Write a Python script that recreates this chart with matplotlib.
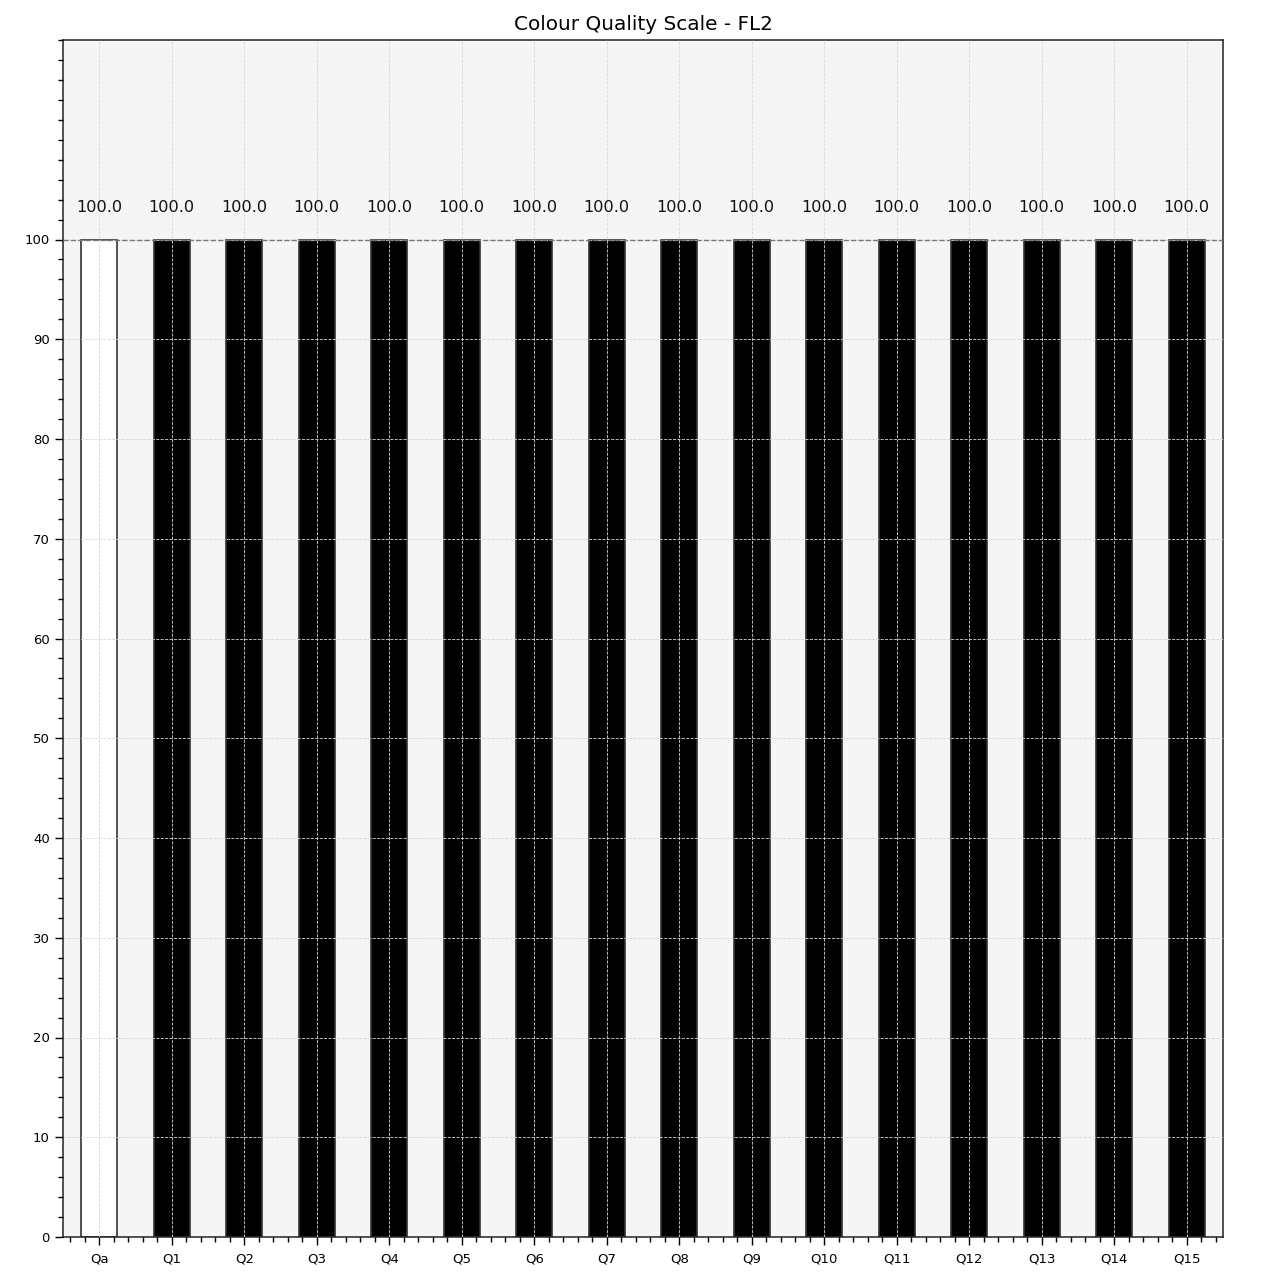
import matplotlib
matplotlib.use("Agg")
import matplotlib.pyplot as plt
from matplotlib.ticker import AutoMinorLocator

title = "Colour Quality Scale - FL2"
labels = ["Qa", "Q1", "Q2", "Q3", "Q4", "Q5", "Q6", "Q7", "Q8",
          "Q9", "Q10", "Q11", "Q12", "Q13", "Q14", "Q15"]
scores = [100.0, 100.0, 100.0, 100.0, 100.0, 100.0, 100.0, 100.0, 100.0,
          100.0, 100.0, 100.0, 100.0, 100.0, 100.0, 100.0]
colours = ["white"] + ["black"] * 15

fig = plt.figure(figsize=(12.8, 12.8), dpi=100)
ax = fig.add_axes([63 / 1280, 43 / 1280, 1160 / 1280, 1197 / 1280])
ax.set_facecolor("#f5f5f5")

x = list(range(len(labels)))
ax.bar(x, scores, width=0.5, color=colours, edgecolor="#333333", linewidth=1.2, zorder=1)

for xi, s in zip(x, scores):
    ax.text(xi, s + 2.5, "%.1f" % s, ha="center", va="bottom", fontsize=11.6, color="#111111")

ax.axhline(100, color="#777777", linestyle="--", linewidth=1, zorder=3)

ax.set_xlim(-0.5, 15.5)
ax.set_ylim(0, 120)
ax.set_xticks(x)
ax.set_xticklabels(labels)
ax.set_yticks(range(0, 101, 10))
ax.xaxis.set_minor_locator(AutoMinorLocator(5))
ax.yaxis.set_minor_locator(AutoMinorLocator(5))
ax.tick_params(axis="both", which="major", labelsize=9.5, length=6, width=1, direction="out")
ax.tick_params(axis="x", which="major", pad=5)
ax.tick_params(axis="both", which="minor", length=3.5, width=1, direction="out")

ax.grid(True, which="major", linestyle="--", linewidth=0.6, color="#d8d8d8", zorder=2)
ax.set_axisbelow(False)
for sp in ax.spines.values():
    sp.set_color("#222222")
    sp.set_linewidth(1.1)

ax.set_title(title, fontsize=14.4, pad=7)

fig.savefig("out.png", dpi=100)
